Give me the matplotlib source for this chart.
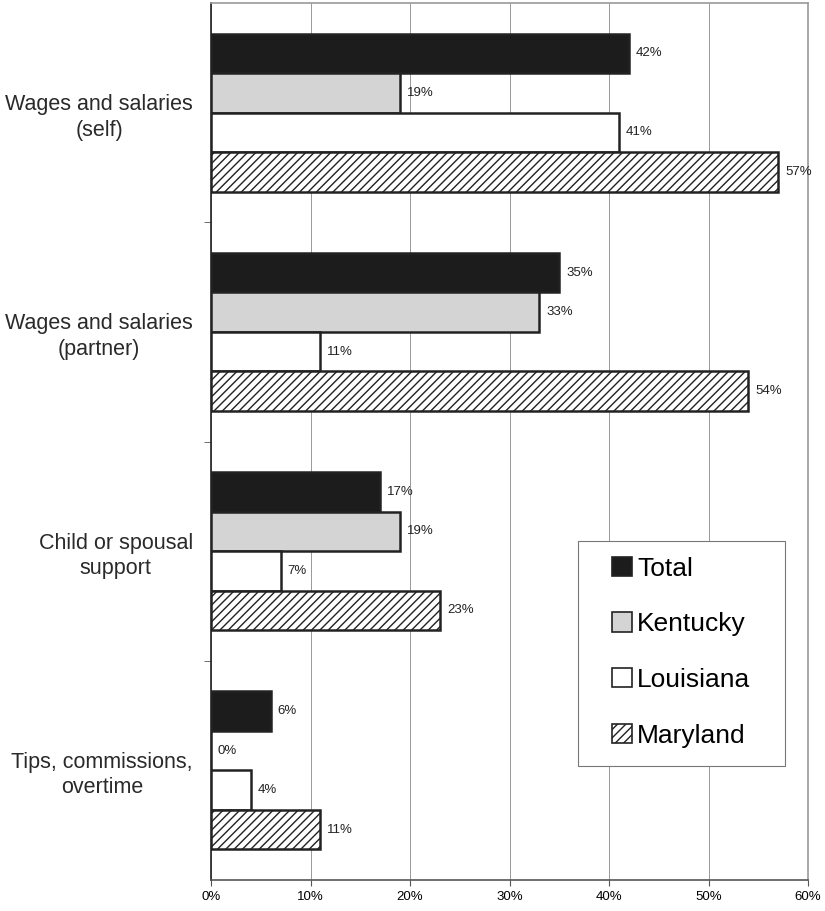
import numpy as np
import matplotlib
matplotlib.use('Agg')
import matplotlib.pyplot as plt
from matplotlib.patches import Patch, Rectangle

plt.rcParams['font.family'] = ['Liberation Sans', 'DejaVu Sans']
plt.rcParams['hatch.linewidth'] = 1.0

categories = ['Wages and salaries\n(self)', 'Wages and salaries\n(partner)',
              'Child or spousal\nsupport', 'Tips, commissions,\novertime']
series = ['Total', 'Kentucky', 'Louisiana', 'Maryland']
total = [42, 35, 17, 6]
kentucky = [19, 33, 19, 0]
louisiana = [41, 11, 7, 4]
maryland = [57, 54, 23, 11]
xticks = [0, 10, 20, 30, 40, 50, 60]

values = [total, kentucky, louisiana, maryland]
faces = ['#1c1c1c', '#d4d4d4', 'white', 'white']
hatches = [None, None, None, '////']

W, H = 825, 911
fig = plt.figure(figsize=(W / 100, H / 100), dpi=100)
ax = fig.add_axes([0.2558, 0.034, 0.7236, 0.9627])

h = 0.18
y = np.arange(len(categories))
for i, (vals, fc, ht) in enumerate(zip(values, faces, hatches)):
    pos = y + (i - 1.5) * h
    ax.barh(pos, vals, height=h, color=fc, edgecolor='#222222', linewidth=1.8,
            hatch=ht, zorder=3)
    for p, v in zip(pos, vals):
        ax.text(v + 0.7, p, f'{v}%', va='center', ha='left', fontsize=9.5,
                color='#222222', zorder=4)

ax.set_xlim(0, 60)
ax.set_ylim(3.5, -0.5)
ax.set_xticks(xticks)
ax.set_xticklabels([f'{t}%' for t in xticks], fontsize=9.5)
ax.set_yticks(y)
ax.set_yticklabels(categories, fontsize=15.5, color='#2a2a2a',
                   multialignment='center', linespacing=1.28)
ax.tick_params(axis='y', length=0, pad=13)
ax.set_yticks([0.5, 1.5, 2.5], minor=True)
ax.tick_params(axis='y', which='minor', length=5, color='#555555')
ax.tick_params(axis='x', length=4, color='#555555', pad=4)

ax.grid(axis='x', color='#999999', linewidth=0.7, zorder=0)
for side in ['top', 'right']:
    ax.spines[side].set_color('#999999')
    ax.spines[side].set_linestyle((0, (1, 1)))
    ax.spines[side].set_linewidth(1.2)
ax.spines['left'].set_color('#222222')
ax.spines['left'].set_linewidth(1.2)
ax.spines['bottom'].set_color('#555555')
ax.spines['bottom'].set_linewidth(1.2)

# legend box drawn on its own so the padding can be wider than tall
box = Rectangle((578 / W, 1 - 766 / H), 207 / W, 225 / H, transform=fig.transFigure,
                facecolor='white', edgecolor='#777777', linewidth=0.8, zorder=5)
fig.add_artist(box)
handles = [Patch(facecolor=fc, edgecolor='#222222', hatch=ht, linewidth=1.2)
           for fc, ht in zip(faces, hatches)]
leg = fig.legend(handles, series, loc='center', bbox_to_anchor=(681 / W, 1 - 652 / H),
                 fontsize=19, frameon=False, handlelength=0.75, handleheight=0.75,
                 handletextpad=0.2, labelspacing=1.2, borderpad=0)
leg.set_zorder(6)

plt.savefig('out.png', dpi=100)
